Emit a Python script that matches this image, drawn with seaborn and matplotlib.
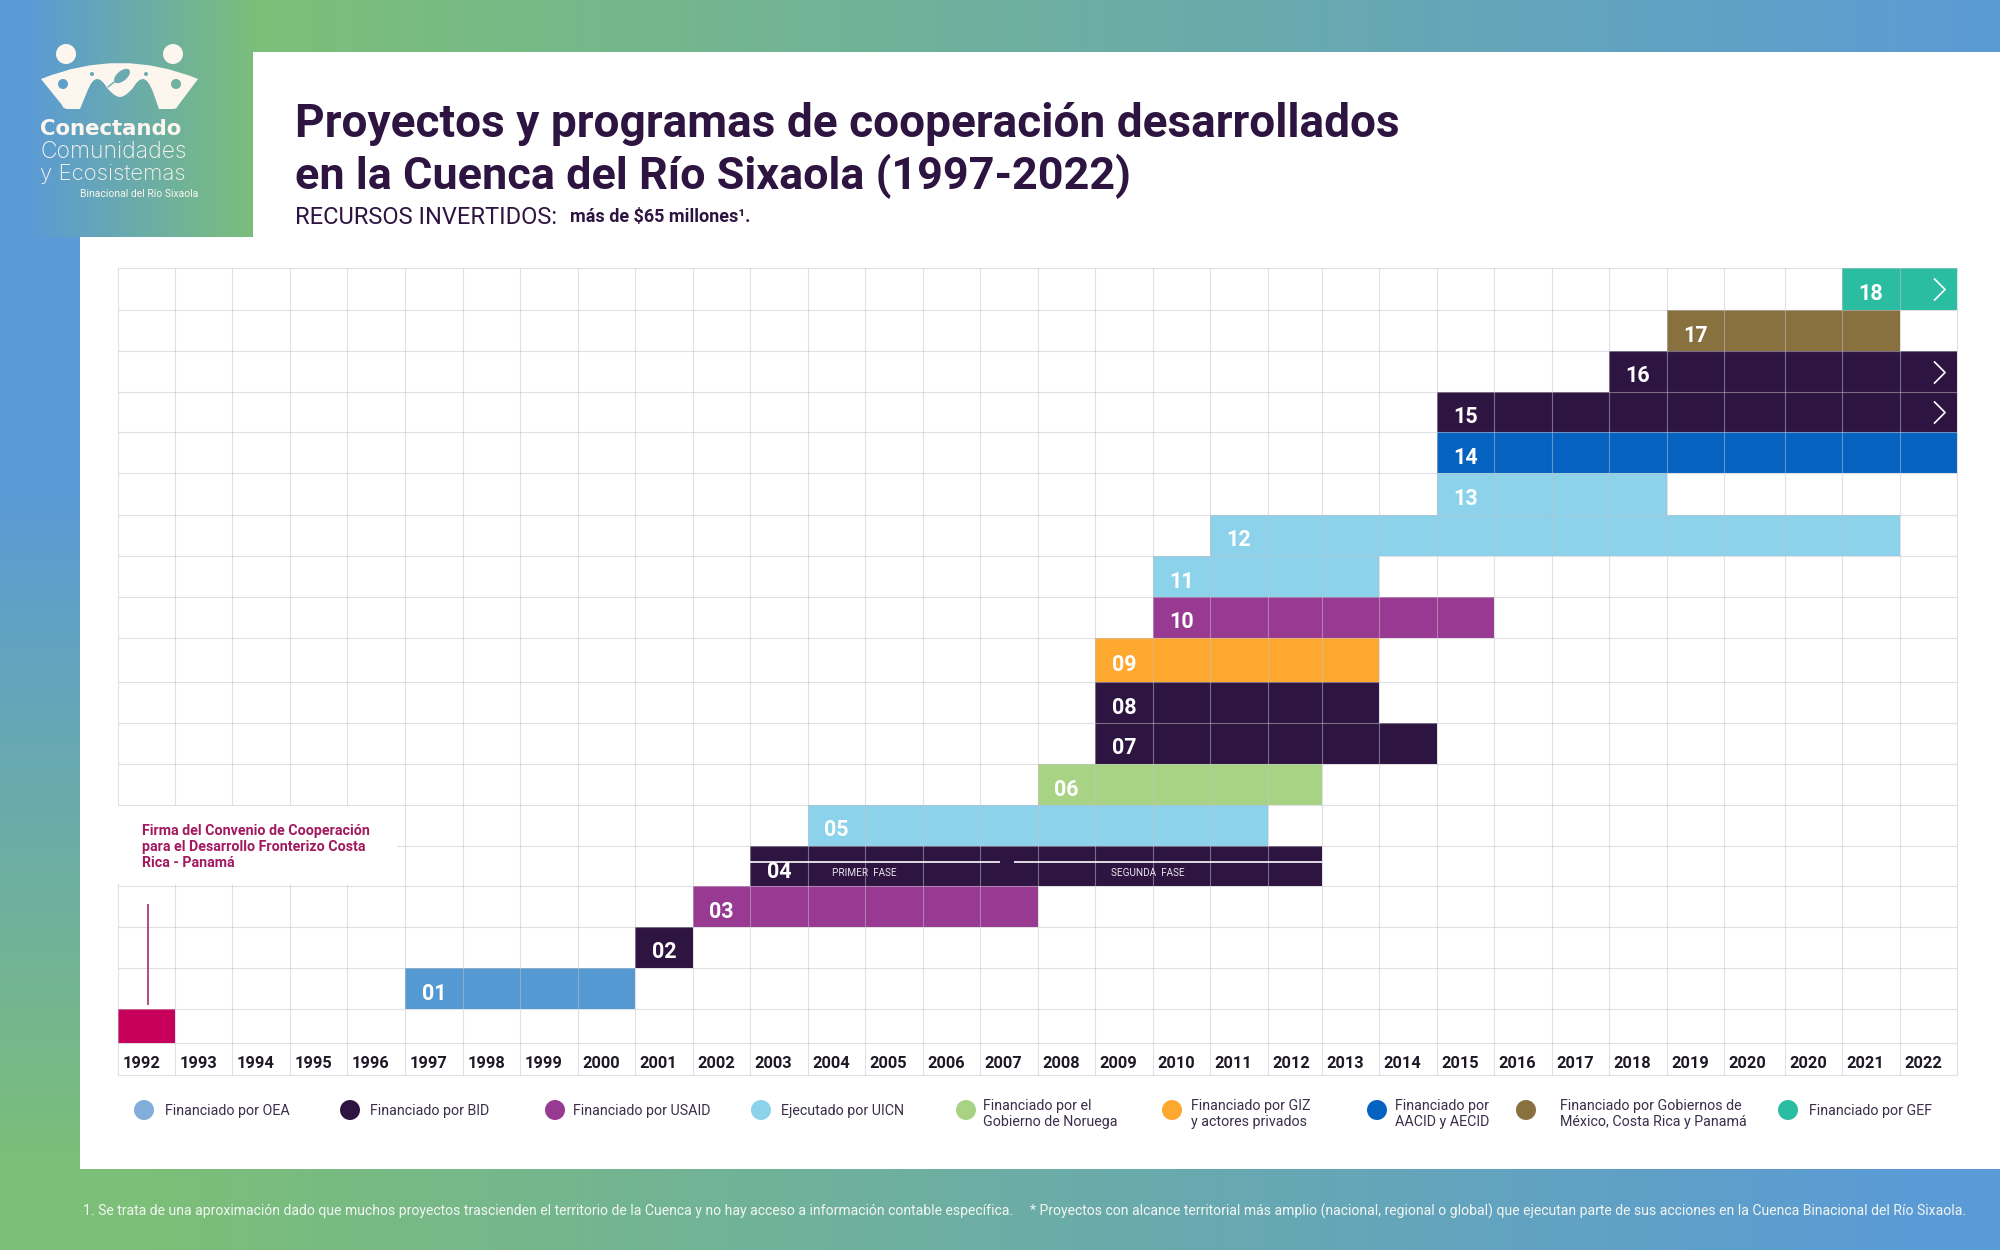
import numpy as np
import seaborn as sns
import matplotlib.pyplot as plt
from matplotlib.colors import ListedColormap
from matplotlib.patches import Rectangle, Circle, Ellipse, PathPatch
from matplotlib.path import Path

year_labels = ['1992', '1993', '1994', '1995', '1996', '1997', '1998', '1999', '2000', '2001', '2002',
               '2003', '2004', '2005', '2006', '2007', '2008', '2009', '2010', '2011', '2012', '2013',
               '2014', '2015', '2016', '2017', '2018', '2019', '2020', '2020', '2021', '2022']

# one entry per row of the chart, bottom row first. first/last are column numbers of year_labels
project_ids = ['', '01', '02', '03', '04', '05', '06', '07', '08', '09', '10', '11', '12', '13', '14', '15', '16', '17', '18']
first_col = [0, 5, 9, 10, 11, 12, 16, 17, 17, 17, 18, 18, 19, 23, 23, 23, 26, 27, 30]
last_col = [0, 8, 9, 15, 20, 19, 20, 22, 21, 21, 23, 21, 30, 26, 31, 31, 31, 30, 31]
funder = ['Convenio', 'OEA', 'BID', 'USAID', 'BID', 'UICN', 'Noruega', 'BID', 'BID', 'GIZ', 'USAID', 'UICN',
          'UICN', 'UICN', 'AACID', 'BID', 'BID', 'Gobiernos', 'GEF']
continues = ['15', '16', '18']

funder_names = ['Convenio', 'OEA', 'BID', 'USAID', 'UICN', 'Noruega', 'GIZ', 'AACID', 'Gobiernos', 'GEF']
funder_colors = ['#C6005A', '#5499D2', '#2E1541', '#983A92', '#8BD2EA', '#A8D384', '#FFA82F', '#0562C0', '#88703F', '#2ABDA2']

legend_text = ['Financiado por OEA', 'Financiado por BID', 'Financiado por USAID', 'Ejecutado por UICN',
               'Financiado por el\nGobierno de Noruega', 'Financiado por GIZ\ny actores privados',
               'Financiado por\nAACID y AECID', 'Financiado por Gobiernos de\nMéxico, Costa Rica y Panamá',
               'Financiado por GEF']
legend_colors = ['#82AEDC', '#2E1541', '#983A92', '#8BD2EA', '#A8D384', '#FFA82F', '#0562C0', '#88703F', '#2ABDA2']
legend_dot_x = [144, 350, 555, 761, 966, 1172, 1377, 1526, 1788]
legend_text_x = [165, 370, 573, 781, 983, 1191, 1395, 1560, 1809]

# grid sizes in pixels, the columns and rows of the original are not quite even
col_widths = [57, 57, 58, 57, 58, 58, 57, 58, 57, 58, 57, 58, 57, 58, 57, 58, 57, 58, 57, 58,
              54, 57, 58, 57, 58, 57, 58, 57, 61, 57, 58, 57]
row_heights = [42, 41, 41, 40, 41, 42, 41, 41, 41, 44, 41, 41, 41, 41, 40, 41, 41, 41, 34, 32]

sns.set_theme(style='white')
plt.rcParams['font.family'] = ['Roboto', 'DejaVu Sans']

dark = '#2E1541'
magenta = '#A3195F'
blue = np.array([0x5B, 0x9B, 0xD5]) / 255.
green = np.array([0x7C, 0xBF, 0x78]) / 255.

fig = plt.figure(figsize=(20, 12.5), dpi=100)

# background, works in pixels of the final picture
bg = fig.add_axes([0, 0, 1, 1])
bg.axis('off')

xx, yy = np.meshgrid(np.arange(2000), np.arange(1250))
t = np.where(xx < 260, np.clip((xx - 30) / 230., 0, 1), 1 - (xx - 260) / 1740.)
left_t = np.clip((yy - 500) / 670., 0, 1)
t = np.where((xx < 80) & (yy >= 237), left_t, t)
bottom_t = 1 - np.clip((xx - 150) / 1750., 0, 1)
t = np.where(yy >= 1169, bottom_t, t)
gradient = blue + t[..., None] * (green - blue)
bg.imshow(gradient, extent=(0, 2000, 1250, 0), aspect='auto', zorder=0)
bg.set_xlim(0, 2000)
bg.set_ylim(1250, 0)

bg.add_patch(Rectangle((80, 237), 1920, 932, color='white', lw=0, zorder=1))
bg.add_patch(Rectangle((253, 52), 1747, 186, color='white', lw=0, zorder=1))

# logo
cream = '#FCF6EE'
for cx in [66, 173]:
    bg.add_patch(Circle((cx, 54), 10, color=cream, lw=0, zorder=2))
M, L, C = Path.MOVETO, Path.LINETO, Path.CURVE3
logo_pts = [(41, 79), (120, 47), (198, 79), (177, 107), (177, 109), (172, 109), (159, 109), (153, 92), (148, 79),
            (143, 79), (138, 79), (133, 88), (128, 93), (124, 97), (120, 97), (116, 97), (112, 93), (107, 88),
            (102, 79), (97, 79), (92, 79), (87, 92), (80, 109), (68, 109), (63, 109), (62, 105), (41, 79)]
logo_codes = [M, C, C, L, C, C, L, L, C, C, C, C, L, C, C, C, C, L, C, C, C, C, L, L, C, C, L]
bg.add_patch(PathPatch(Path(logo_pts, logo_codes), facecolor=cream, lw=0, zorder=2))
for cx, cy, r, col in [(63, 84, 5, '#5E9FCB'), (176, 84, 5, '#72B2A0'), (92, 74, 2, '#65A6BC'), (146, 74, 2, '#6FAEA8')]:
    bg.add_patch(Circle((cx, cy), r, color=col, lw=0, zorder=3))
bg.add_patch(Ellipse((122, 76), 19, 10, angle=-40, color='#6AAAB0', lw=0, zorder=3))
bg.plot([108, 124], [87, 74], color='#6AAAB0', lw=1, zorder=3)

bg.text(40, 129, 'Conectando', color=cream, fontsize=15.3, fontweight='bold', va='center', family='DejaVu Sans', zorder=3)
bg.text(40, 152, 'Comunidades', color=cream, fontsize=16.5, fontweight='light', va='center', family='Inter', zorder=3)
bg.text(40, 174, 'y Ecosistemas', color=cream, fontsize=16, fontweight='light', va='center', family='Inter', zorder=3)
bg.text(198, 194, 'Binacional del Río Sixaola', color=cream, fontsize=7.5, ha='right', va='center', zorder=3)

# titles
bg.text(295, 124, 'Proyectos y programas de cooperación desarrollados', color=dark, fontsize=33.15,
        fontweight='bold', va='center', zorder=3)
bg.text(295, 176, 'en la Cuenca del Río Sixaola (1997-2022)', color=dark, fontsize=32.4,
        fontweight='bold', va='center', zorder=3)
bg.text(295, 217, 'RECURSOS INVERTIDOS:', color=dark, fontsize=17, va='center', zorder=3)
bg.text(570, 217, 'más de $65 millones¹.', color=dark, fontsize=13, fontweight='bold', va='center', zorder=3)

# legend
bg.scatter(legend_dot_x, [1110] * len(legend_dot_x), s=207, c=legend_colors, linewidths=0, zorder=3)
for tx, label in zip(legend_text_x, legend_text):
    ty = 1114 if '\n' in label else 1111
    bg.text(tx, ty, label, color='#3B2E4A', fontsize=10.3, va='center', linespacing=1.1, zorder=3)

# footer
bg.text(83, 1211, '1. Se trata de una aproximación dado que muchos proyectos trascienden el territorio de la Cuenca y no hay acceso a información contable específica.',
        color='#F2F6F2', fontsize=10.08, va='center', zorder=3)
bg.text(1030, 1211, '* Proyectos con alcance territorial más amplio (nacional, regional o global) que ejecutan parte de sus acciones en la Cuenca Binacional del Río Sixaola.',
        color='#F2F6F2', fontsize=10.1, va='center', zorder=3)

# chart, both axes of the heatmap are in pixels from the top left of the grid
grid_w, grid_h = sum(col_widths), sum(row_heights)
ax = fig.add_axes([118 / 2000, 1 - (268 + grid_h) / 1250, grid_w / 2000, grid_h / 1250])
ax.patch.set_alpha(0)

n_rows = len(project_ids)
cells = np.full((n_rows + 1, len(year_labels)), np.nan)
for i in range(n_rows):
    cells[n_rows - 1 - i, first_col[i]:last_col[i] + 1] = funder_names.index(funder[i])
cells = np.repeat(np.repeat(cells, row_heights, axis=0), col_widths, axis=1)

sns.heatmap(cells, ax=ax, cmap=ListedColormap(funder_colors), vmin=-0.5, vmax=len(funder_names) - 0.5,
            cbar=False, yticklabels=False, xticklabels=False)

y_edges = np.concatenate([[0], np.cumsum(row_heights)])
x_edges = np.concatenate([[0], np.cumsum(col_widths)])
ax.hlines(y_edges, 0, grid_w, color='#C4C4CC', alpha=0.5, lw=0.8, zorder=3, clip_on=False)
ax.vlines(x_edges, 0, grid_h, color='#C4C4CC', alpha=0.5, lw=0.8, zorder=3, clip_on=False)

ax.set_xticks(x_edges[:-1] + 23.5, year_labels, rotation=0, fontsize=11.8, color='#1E1826', fontweight='bold')
ax.tick_params(axis='x', length=0, pad=-14)
ax.set_xlabel('')
ax.set_ylabel('')

# project numbers
chevron = Path([(-0.5, -1), (0.5, 0), (-0.5, 1)], [M, L, L])
for i, pid in enumerate(project_ids):
    if pid == '':
        continue
    row = n_rows - 1 - i
    y = (y_edges[row] + y_edges[row + 1]) / 2 + 5
    if pid == '04':
        y = y + 1
    x = x_edges[first_col[i]] + col_widths[first_col[i]] / 2
    ax.text(x, y, pid, color='white', fontsize=15.5, fontweight='bold', ha='center', va='center', zorder=5)
    if pid in continues:
        ax.plot([1821], [y - 5], marker=chevron, ms=16, mfc='none', mec='white', mew=1.2, ls='none', zorder=5)

# phases of project 04
row_04 = n_rows - 1 - project_ids.index('04')
y_phase = y_edges[row_04] + 16
ax.hlines(y_phase, x_edges[11], 882, color='white', lw=1.2, zorder=5)
ax.hlines(y_phase, 896, x_edges[21], color='white', lw=1.2, zorder=5)
ax.text(746, y_phase + 11, 'PRIMER  FASE', color='#E8E4EC', fontsize=7.2, ha='center', va='center', zorder=5)
ax.text(1030, y_phase + 11, 'SEGUNDA  FASE', color='#E8E4EC', fontsize=7.2, ha='center', va='center', zorder=5)

# note on the signature of the agreement
ax.add_patch(Rectangle((-1, 538), 280, 78, color='white', lw=0, zorder=4, clip_on=False))
ax.text(24, 563, 'Firma del Convenio de Cooperación', color=magenta, fontsize=10.25, fontweight='bold', va='center', zorder=5)
ax.text(24, 579, 'para el Desarrollo Fronterizo Costa', color=magenta, fontsize=10.25, fontweight='bold', va='center', zorder=5)
ax.text(24, 595, 'Rica - Panamá', color=magenta, fontsize=10.25, fontweight='bold', va='center', zorder=5)
ax.vlines(30, 636, 737, color=magenta, lw=1.1, zorder=5)

for spine in ax.spines.values():
    spine.set_visible(False)

fig.savefig('out.png', dpi=100)
